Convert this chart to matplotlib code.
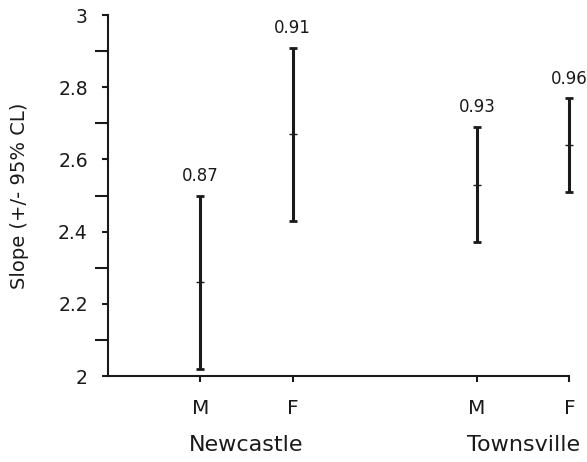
import matplotlib.pyplot as plt
from matplotlib.ticker import FixedLocator
import matplotlib.transforms as mtransforms
import numpy as np

# slope estimates with 95% confidence limits
sites = ["Newcastle", "Townsville"]
sexes = ["M", "F", "M", "F"]
slope = [2.26, 2.67, 2.53, 2.64]
lower = [2.02, 2.43, 2.37, 2.51]
upper = [2.50, 2.91, 2.69, 2.77]
r_vals = ["0.87", "0.91", "0.93", "0.96"]

xpos = [1, 2, 4, 5]
site_pos = [1.5, 4.5]

ink = "#1a1a1a"

fig = plt.figure(figsize=(5.87, 4.62), dpi=100)
ax = fig.add_axes([0.184, 0.186, 0.786, 0.7815])

slope = np.array(slope)
err = [slope - np.array(lower), np.array(upper) - slope]
eb = ax.errorbar(xpos, slope, yerr=err, fmt='none', ecolor=ink,
                 elinewidth=2.2, capsize=3, capthick=2)
for art in eb.lines[1] + eb.lines[2]:
    art.set_clip_on(False)
# thin tick for the slope estimate
ax.plot(xpos, slope, linestyle='none', marker='_', markersize=6,
        markeredgewidth=1, color=ink, clip_on=False)

for x, u, r in zip(xpos, upper, r_vals):
    ax.annotate(r, (x, u), xytext=(0, 14), textcoords='offset points',
                ha='center', va='center', fontsize=12, color=ink)

ax.set_xlim(0, 5)
ax.set_ylim(2, 3)
ax.set_xticks(xpos)
ax.set_xticklabels(sexes)
ax.yaxis.set_major_locator(FixedLocator([2, 2.2, 2.4, 2.6, 2.8, 3]))
ax.yaxis.set_minor_locator(FixedLocator([2.1, 2.3, 2.5, 2.7, 2.9]))
ax.set_yticklabels(["2", "2.2", "2.4", "2.6", "2.8", "3"])

for s in ["top", "right"]:
    ax.spines[s].set_visible(False)
for s in ["left", "bottom"]:
    ax.spines[s].set_linewidth(1.5)
    ax.spines[s].set_color(ink)

ax.tick_params(axis='y', which='major', length=4.5, width=1.5, pad=10,
               labelsize=13.5, colors=ink)
ax.tick_params(axis='y', which='minor', length=9.5, width=1.5, color=ink)
ax.tick_params(axis='x', which='major', length=4.5, width=1.5, pad=12,
               labelsize=14.5, colors=ink)

trans = mtransforms.blended_transform_factory(ax.transData, ax.transAxes)
for x, name in zip(site_pos, sites):
    ax.text(x, -0.19, name, transform=trans, ha='center', va='center',
            fontsize=16, color=ink)

ax.set_ylabel("Slope (+/- 95% CL)", fontsize=14, color=ink)
ax.yaxis.set_label_coords(-0.172, 0.5)

fig.savefig("out.png", dpi=100)
